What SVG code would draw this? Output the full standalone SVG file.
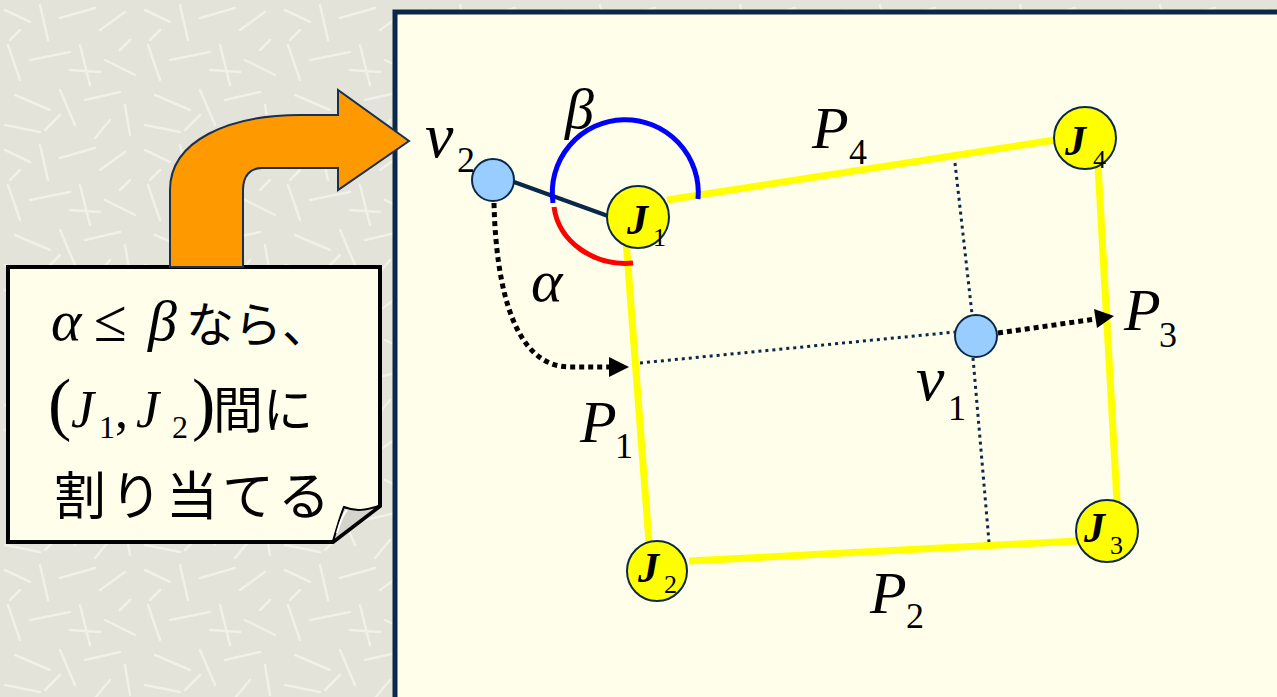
<svg xmlns="http://www.w3.org/2000/svg" width="1277" height="697" viewBox="0 0 1277 697">
<defs>
<pattern id="tex" width="140" height="140" patternUnits="userSpaceOnUse">
<rect width="140" height="140" fill="#e3e3d9"/>
<g stroke="#f1f1e8" stroke-width="2.5" stroke-linecap="round">
<path d="M5 10 L30 22 M40 5 L48 40 M60 18 L95 8 M100 30 L125 12 M8 45 L20 80 M30 60 L70 52 M80 45 L90 85 M105 60 L135 75 M15 95 L50 110 M60 90 L75 125 M85 100 L120 92 M125 105 L130 135 M5 125 L40 132 M45 130 L60 115 M110 120 L95 138 M70 70 L100 72 M20 30 L10 40 M130 40 L120 50"/>
</g>
</pattern>
<style>
.jp{font-family:'Noto Sans CJK JP','Noto Sans',sans-serif;fill:#000}
.edge{stroke:#ffff00;stroke-width:7;fill:none}
.dot{stroke:#0a2848;stroke-width:3;stroke-dasharray:3 4;fill:none}
.darrow{stroke:#000;stroke-width:5;stroke-dasharray:5 4;fill:none}
.jn{fill:#ffff00;stroke:#0a2848;stroke-width:2}
.vn{fill:#99ccff;stroke:#0a2848;stroke-width:2}
</style>
</defs>
<rect width="1277" height="697" fill="url(#tex)"/>
<rect id="panel" x="395" y="12" width="900" height="700" fill="#fefeeb" stroke="#0a2848" stroke-width="5"/>

<g id="connectors">
<line class="edge" x1="667" y1="200" x2="1055" y2="140"/>
<line class="edge" x1="1098" y1="165" x2="1117" y2="501"/>
<line class="edge" x1="689" y1="561" x2="1077" y2="541"/>
<line class="edge" x1="626" y1="240" x2="649" y2="542"/>
<line class="dot" x1="640" y1="363" x2="955" y2="332"/>
<line class="dot" x1="955" y1="163" x2="972" y2="314"/>
<line class="dot" x1="973" y1="358" x2="989" y2="542"/>
<line x1="514" y1="182" x2="608" y2="216" stroke="#0a2848" stroke-width="4"/>
<path d="M553,203 A73,73 0 1 1 698,199" stroke="#0000ff" stroke-width="5" fill="none"/>
<path d="M554,207 A72,64 0 0 0 633,263" stroke="#ff0000" stroke-width="5" fill="none"/>
<path class="darrow" d="M998,333 L1096,319"/>
<path d="M1094,309 L1114,316 L1097,328 Z" fill="#000"/>
<path class="darrow" d="M494,203 C496,290 515,367 570,367 L610,367"/>
<path d="M609,357 L629,367 L609,377 Z" fill="#000"/>
</g>

<g font-family="Liberation Serif, serif" fill="#000">
<g id="J1"><circle class="jn" cx="638" cy="217" r="31"/><text font-style="italic" font-weight="bold" font-size="42" x="627" y="234">J</text><text font-size="26" x="653" y="246">1</text></g>
<g id="J4"><circle class="jn" cx="1085" cy="138" r="31"/><text font-style="italic" font-weight="bold" font-size="42" x="1065" y="155">J</text><text font-size="26" x="1093" y="168">4</text></g>
<g id="J2"><circle class="jn" cx="657" cy="571" r="30"/><text font-style="italic" font-weight="bold" font-size="42" x="638" y="582">J</text><text font-size="26" x="664" y="593">2</text></g>
<g id="J3"><circle class="jn" cx="1107" cy="531" r="31"/><text font-style="italic" font-weight="bold" font-size="42" x="1084" y="542">J</text><text font-size="26" x="1110" y="554">3</text></g>
<g id="v2"><circle class="vn" cx="493" cy="180" r="21"/><text font-style="italic" font-size="64" x="425" y="157">v</text><text font-size="36" x="457" y="172">2</text></g>
<g id="v1"><circle class="vn" cx="976" cy="336" r="21"/><text font-style="italic" font-size="64" x="916" y="400">v</text><text font-size="36" x="948" y="420">1</text></g>

<g id="labels">
<text font-style="italic" font-size="58" x="565" y="128">β</text>
<text font-style="italic" font-size="60" x="531" y="301">α</text>
<text font-style="italic" font-size="60" x="812" y="148">P</text><text font-size="36" x="849" y="164">4</text>
<text font-style="italic" font-size="60" x="1124" y="330">P</text><text font-size="36" x="1159" y="347">3</text>
<text font-style="italic" font-size="60" x="580" y="442">P</text><text font-size="36" x="615" y="458">1</text>
<text font-style="italic" font-size="60" x="870" y="613">P</text><text font-size="36" x="906" y="628">2</text>
</g>

<g id="callout">
<path d="M8,267 H380 V506 L333,542 H8 Z" fill="#fefeeb" stroke="#000" stroke-width="4" stroke-linejoin="miter"/>
<path d="M333,541 C337,528 340,516 344,507 C356,512 366,510 379,506 Z" fill="#d4d4cc" stroke="#000" stroke-width="2"/>
<path d="M337,533 C340,522 343,514 347,510" stroke="#fff" stroke-width="2" fill="none"/>
<text font-style="italic" font-size="58" x="51" y="340">α</text>
<text font-size="60" x="94" y="341">≤</text>
<text font-style="italic" font-size="58" x="148" y="340">β</text>
<text class="jp" font-size="48" x="186" y="342">なら、</text>
<text font-size="70" x="48" y="427">(</text>
<text font-style="italic" font-size="52" x="71" y="427">J</text>
<text font-size="32" x="99" y="438">1</text>
<text font-size="52" x="115" y="427">,</text>
<text font-style="italic" font-size="52" x="136" y="427">J</text>
<text font-size="32" x="172" y="438">2</text>
<text font-size="70" x="192" y="427">)</text>
<text class="jp" font-size="50" x="213" y="428">間に</text>
<text class="jp" font-size="52" x="54" y="515" textLength="276" lengthAdjust="spacing">割り当てる</text>
</g>
</g>

<g id="bent-arrow">
<path d="M170,267 V190 C170,140 230,115 300,115 H338 V90 L409,141 L338,190 V168 H262 C250,168 243,176 243,190 V267 Z" fill="#ff9900" stroke="#1a3050" stroke-width="2"/>
</g>
</svg>
